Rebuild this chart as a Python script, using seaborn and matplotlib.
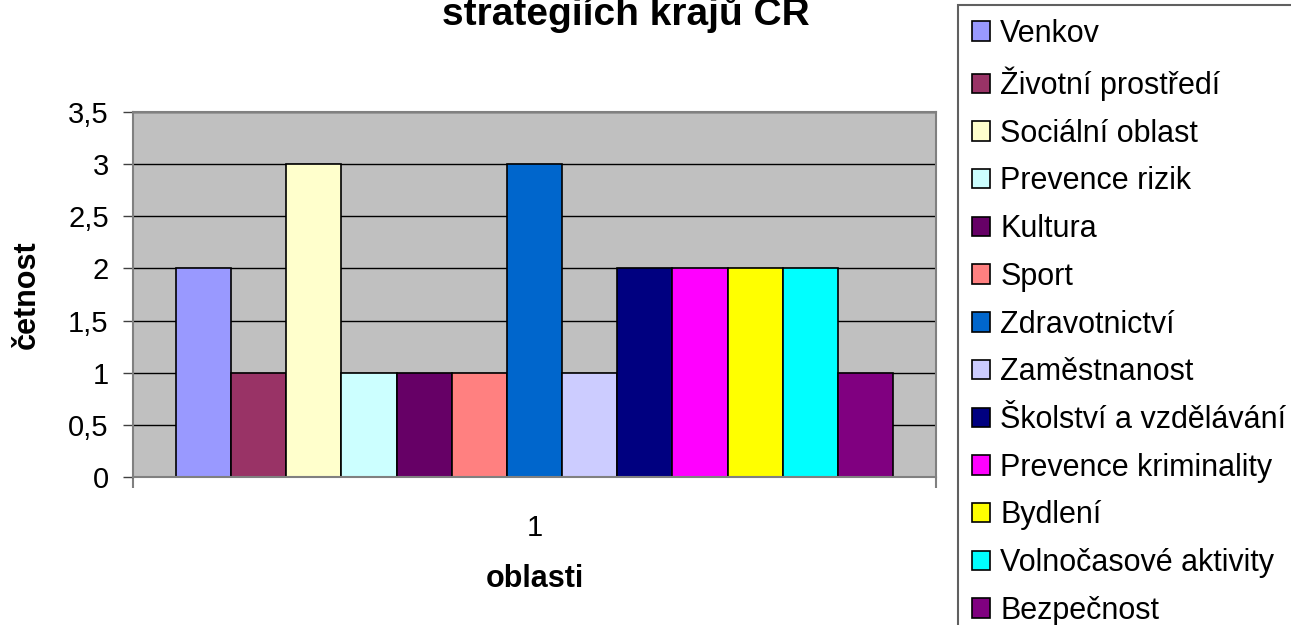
import matplotlib
matplotlib.use('Agg')
import matplotlib.pyplot as plt
import seaborn as sns
import pandas as pd
from matplotlib.ticker import FuncFormatter

# Data
oblasti = ['Venkov', 'Životní prostředí', 'Sociální oblast', 'Prevence rizik',
           'Kultura', 'Sport', 'Zdravotnictví', 'Zaměstnanost',
           'Školství a vzdělávání', 'Prevence kriminality', 'Bydlení',
           'Volnočasové aktivity', 'Bezpečnost']
cetnost = [2, 1, 3, 1, 1, 1, 3, 1, 2, 2, 2, 2, 1]
kategorie = ['1'] * len(oblasti)

# Excel-like default palette
barvy = ['#9999FF', '#993366', '#FFFFCC', '#CCFFFF', '#660066', '#FF8080',
         '#0066CC', '#CCCCFF', '#000080', '#FF00FF', '#FFFF00', '#00FFFF',
         '#800080']
palette = dict(zip(oblasti, barvy))

df = pd.DataFrame({'kat': kategorie, 'oblast': oblasti, 'cetnost': cetnost})

sns.set_style('white')
plt.rcParams['font.family'] = ['Liberation Sans', 'DejaVu Sans']
plt.rcParams['text.color'] = 'black'
plt.rcParams['axes.labelcolor'] = 'black'
plt.rcParams['xtick.color'] = 'black'
plt.rcParams['ytick.color'] = 'black'

fig = plt.figure(figsize=(12.91, 6.25), dpi=100)
ax = fig.add_axes([0.1030, 0.2368, 0.6220, 0.5840])
ax.set_facecolor('#C0C0C0')
ax.set_axisbelow(True)

sns.barplot(data=df, x='kat', y='cetnost', hue='oblast', hue_order=oblasti,
            palette=palette, saturation=1, width=0.893, dodge=True,
            edgecolor='black', linewidth=1.2, ax=ax, legend=True)

handles, labels = ax.get_legend_handles_labels()
ax.get_legend().remove()

ax.set_xlim(-0.5, 0.5)
ax.set_ylim(0, 3.5)
ax.set_yticks([0, 0.5, 1, 1.5, 2, 2.5, 3, 3.5])
ax.yaxis.set_major_formatter(FuncFormatter(lambda v, p: f'{v:g}'.replace('.', ',')))
ax.yaxis.grid(True, color='black', linewidth=1)
ax.xaxis.grid(False)

for s in ax.spines.values():
    s.set_color('#808080')
    s.set_linewidth(1.5)

ax.tick_params(axis='y', which='major', left=True, length=7.5, width=1,
               color='#404040', pad=10, labelsize=21)
ax.tick_params(axis='x', which='major', bottom=True, length=0, pad=27, labelsize=21)
ax.set_xticks([-0.5, 0.5], minor=True)
ax.tick_params(axis='x', which='minor', bottom=True, length=8, width=1.5, color='#808080')

ax.set_xlabel('oblasti', fontsize=22, fontweight='bold')
ax.set_ylabel('četnost', fontsize=22, fontweight='bold')
ax.xaxis.set_label_coords(0.5, -0.238)
ax.yaxis.set_label_coords(-0.113, 0.5)

# upper part of the title lies outside the picture, as in the original
fig.text(626 / 1291, 1 - 25 / 625, 'strategiích krajů ČR', ha='center', va='baseline',
         fontsize=28, fontweight='bold')

leg = fig.legend(handles, labels, loc='upper left', bbox_to_anchor=(958 / 1291, 1 - 5 / 625),
                 fontsize=22, frameon=True, fancybox=False, framealpha=1,
                 edgecolor='#606060', handlelength=0.6, handleheight=0.6,
                 handletextpad=0.33, labelspacing=0.58, borderpad=0.45, borderaxespad=0)
leg.get_frame().set_linewidth(1.5)

fig.savefig('out.png', dpi=100)
